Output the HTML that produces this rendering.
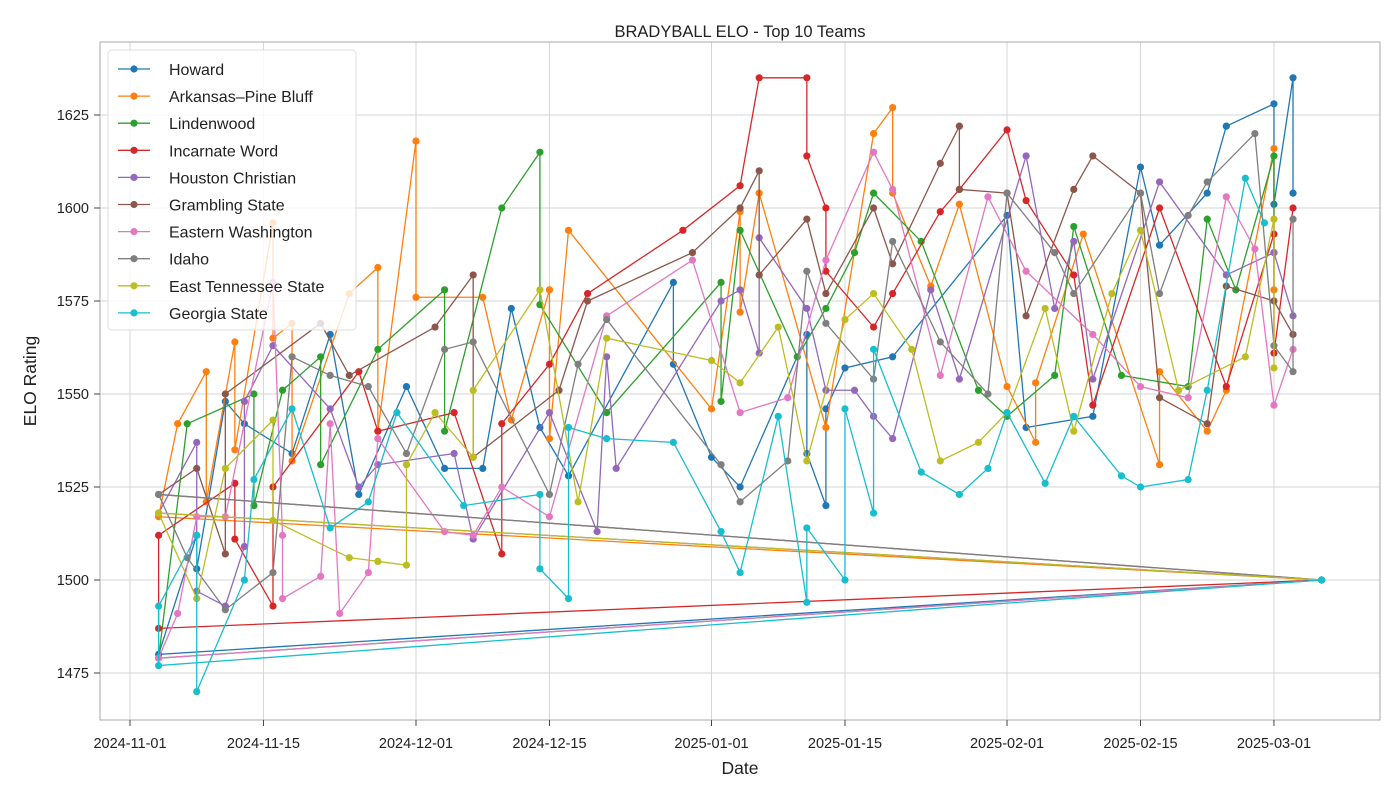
<!DOCTYPE html>
<html><head><meta charset="utf-8"><style>
body{margin:0;background:#fff}
svg text{font-family:"Liberation Sans",Arial,sans-serif;fill:#222}
</style></head><body>
<svg id="chart" width="1400" height="800" xmlns="http://www.w3.org/2000/svg">
<rect width="1400" height="800" fill="#fff"/>
<g id="grid"></g>
<rect x="100" y="42" width="1280" height="678" fill="none" stroke="#aaa" stroke-width="1"/>
<g id="ticks"></g>
<g id="series"></g>
<text x="740" y="37" text-anchor="middle" font-size="16.5">BRADYBALL ELO - Top 10 Teams</text>
<text x="740" y="774" text-anchor="middle" font-size="17.5">Date</text>
<text x="36" y="381" text-anchor="middle" font-size="17.5" transform="rotate(-90 36 381)">ELO Rating</text>
<g id="legend"></g>
</svg>
<script>
const teams=["Howard","Arkansas–Pine Bluff","Lindenwood","Incarnate Word","Houston Christian","Grambling State","Eastern Washington","Idaho","East Tennessee State","Georgia State"];
const colors=["#1f77b4","#ff7f0e","#2ca02c","#d62728","#9467bd","#8c564b","#e377c2","#7f7f7f","#bcbd22","#17becf"];
const xTickLabels=["2024-11-01","2024-11-15","2024-12-01","2024-12-15","2025-01-01","2025-01-15","2025-02-01","2025-02-15","2025-03-01"];
const xTickDays=[0,14,30,44,61,75,92,106,120];
const yTicks=[1475,1500,1525,1550,1575,1600,1625];
const startDay=125, startElo=1500;
const howardDays=[3,7,7,10,12,17,21,24,29,33,37,40,43,46,57,57,61,64,71,71,73,73,75,80,92,94,101,106,108,113,115,120,120,122,122];
const howardElo=[1480,1512,1503,1548,1542,1534,1566,1523,1552,1530,1530,1573,1541,1528,1580,1558,1533,1525,1566,1534,1520,1546,1557,1560,1598,1541,1544,1611,1590,1604,1622,1628,1601,1635,1604];
const apbDays=[3,5,8,8,11,11,15,15,17,17,23,26,26,30,30,37,40,44,44,46,61,64,64,66,73,78,80,80,84,87,92,95,95,100,108,108,113,115,120,120];
const apbElo=[1517,1542,1556,1521,1564,1535,1596,1565,1569,1532,1577,1584,1540,1618,1576,1576,1543,1578,1538,1594,1546,1599,1572,1604,1541,1620,1627,1604,1579,1601,1552,1537,1553,1593,1531,1556,1540,1551,1616,1578];
const lindenDays=[3,6,13,13,16,20,20,26,33,33,39,43,43,50,62,62,64,70,73,76,78,83,89,92,97,99,104,111,113,116,120,120];
const lindenElo=[1479,1542,1550,1520,1551,1560,1531,1562,1578,1540,1600,1615,1574,1545,1580,1548,1594,1560,1573,1588,1604,1591,1551,1544,1555,1595,1555,1552,1597,1578,1614,1588];
const iwDays=[3,3,11,11,15,15,24,26,34,39,39,44,48,58,64,66,71,71,73,73,78,80,85,87,92,94,99,101,108,115,120,120,122];
const iwElo=[1487,1512,1526,1511,1493,1525,1556,1540,1545,1507,1542,1558,1577,1594,1606,1635,1635,1614,1600,1583,1568,1577,1599,1605,1621,1602,1582,1547,1600,1552,1593,1561,1600];
const hcDays=[3,7,7,10,12,12,15,21,24,26,34,36,44,49,50,51,62,64,66,66,71,73,76,78,80,84,87,94,97,99,101,108,115,120,122];
const hcElo=[1518,1537,1497,1493,1509,1548,1563,1546,1525,1531,1534,1511,1545,1513,1560,1530,1575,1578,1561,1592,1573,1551,1551,1544,1538,1578,1554,1614,1573,1591,1554,1607,1582,1588,1571];
const gsDays=[3,7,10,10,20,23,32,36,36,45,48,59,64,66,66,71,73,78,80,85,87,87,92,94,99,101,106,108,113,115,120,122];
const gsElo=[1523,1530,1507,1550,1569,1555,1568,1582,1533,1551,1575,1588,1600,1610,1582,1597,1577,1600,1585,1612,1622,1605,1604,1571,1605,1614,1604,1549,1542,1579,1575,1566];
const ewDays=[3,5,7,10,15,16,16,20,21,22,25,26,33,36,39,44,50,59,64,69,73,78,80,85,90,94,101,106,111,115,118,120,122];
const ewElo=[1479,1491,1517,1517,1580,1512,1495,1501,1542,1491,1502,1538,1513,1512,1525,1517,1571,1586,1545,1549,1586,1615,1605,1555,1603,1583,1566,1552,1549,1603,1589,1547,1562];
const idahoDays=[3,6,10,15,17,21,25,29,33,36,44,47,50,62,64,69,71,73,78,80,85,90,92,97,99,106,108,111,113,118,120,122,122];
const idahoElo=[1523,1506,1492,1502,1560,1555,1552,1534,1562,1564,1523,1558,1570,1531,1521,1532,1583,1569,1554,1591,1564,1550,1604,1588,1577,1604,1577,1598,1607,1620,1563,1556,1597];
const etsuDays=[3,7,10,15,15,23,26,29,29,32,36,36,43,47,50,61,64,68,71,75,78,82,85,89,92,96,99,103,106,110,117,120,120];
const etsuElo=[1518,1495,1530,1543,1516,1506,1505,1504,1531,1545,1533,1551,1578,1521,1565,1559,1553,1568,1532,1570,1577,1562,1532,1537,1545,1573,1540,1577,1594,1551,1560,1597,1557];
const gaDays=[3,3,7,7,12,13,17,21,25,28,35,43,43,46,46,50,57,62,64,68,71,71,75,75,78,78,83,87,90,92,96,99,104,106,111,113,117,119];
const gaElo=[1477,1493,1512,1470,1500,1527,1546,1514,1521,1545,1520,1523,1503,1495,1541,1538,1537,1513,1502,1544,1494,1514,1500,1546,1518,1562,1529,1523,1530,1545,1526,1544,1528,1525,1527,1551,1608,1596];
const allDays=[howardDays,apbDays,lindenDays,iwDays,hcDays,gsDays,ewDays,idahoDays,etsuDays,gaDays];
const allElo=[howardElo,apbElo,lindenElo,iwElo,hcElo,gsElo,ewElo,idahoElo,etsuElo,gaElo];

const NS="http://www.w3.org/2000/svg";
const X=d=>130+d*9.533;
const Y=v=>580-(v-1500)*3.72;
function mk(tag,attrs,parent){const e=document.createElementNS(NS,tag);for(const k in attrs)e.setAttribute(k,attrs[k]);parent.appendChild(e);return e;}
const grid=document.getElementById('grid'),ticks=document.getElementById('ticks'),series=document.getElementById('series'),legend=document.getElementById('legend');
xTickDays.forEach((d,i)=>{
  const l=mk('line',{x1:X(d),x2:X(d),y1:42,y2:720,stroke:'#d6d6d6','stroke-width':1},grid);
  
  
  mk('line',{x1:X(d),x2:X(d),y1:720,y2:726,stroke:'#444'},ticks);
  const t=mk('text',{x:X(d),y:748,'text-anchor':'middle','font-size':14.5},ticks);
  t.textContent=xTickLabels[i];
  
  
});
yTicks.forEach(v=>{
  const l=mk('line',{x1:100,x2:1380,y1:Y(v),y2:Y(v),stroke:'#d6d6d6','stroke-width':1},grid);
  
  
  mk('line',{x1:94,x2:100,y1:Y(v),y2:Y(v),stroke:'#444'},ticks);
  const t=mk('text',{x:89,y:Y(v)+5,'text-anchor':'end','font-size':14.5},ticks);
  t.textContent=v;
  
  
});
teams.forEach((name,i)=>{
  const g=mk('g',{},series);
  
  
  const pts=[[startDay,startElo]].concat(allDays[i].map((d,j)=>[d,allElo[i][j]]));
  const line=mk('polyline',{points:pts.map(p=>X(p[0])+','+Y(p[1])).join(' '),fill:'none',stroke:colors[i],'stroke-width':1.3},g);
  
  
  pts.forEach(p=>{
    const c=mk('circle',{cx:X(p[0]),cy:Y(p[1]),r:3.6,fill:colors[i]},g);
    
    
  });
});
const lb=mk('rect',{x:108,y:50,width:248,height:280,fill:'#fff','fill-opacity':0.8,stroke:'#ddd',rx:4},legend);


teams.forEach((name,i)=>{
  const y=69+i*27.1;
  const g=mk('g',{},legend);
  
  
  mk('line',{x1:118,x2:150,y1:y,y2:y,stroke:colors[i],'stroke-width':1.3},g);
  mk('circle',{cx:134,cy:y,r:3.6,fill:colors[i]},g);
  const t=mk('text',{x:169,y:y+6,'font-size':16},g);
  t.textContent=name;
});
</script>
</body></html>
